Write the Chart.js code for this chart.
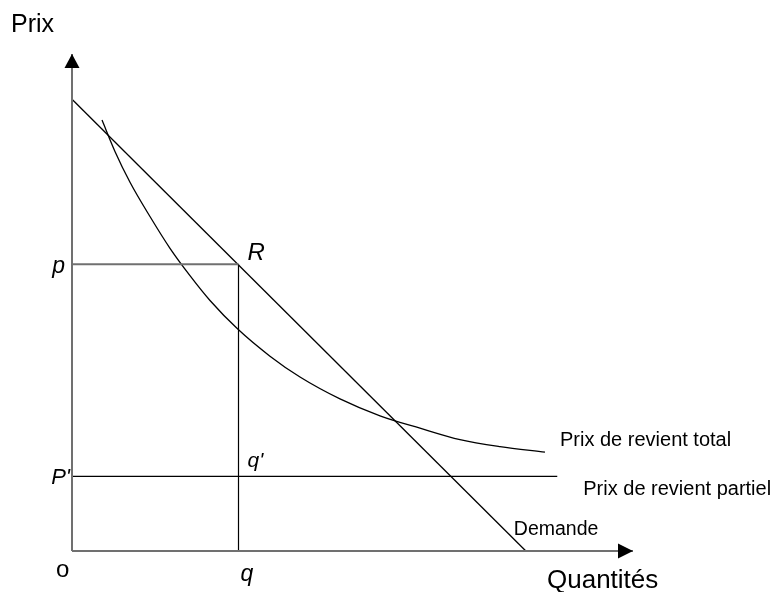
<!DOCTYPE html>
<html>
<head>
<meta charset="utf-8">
<script src="https://cdn.jsdelivr.net/npm/chart.js@4/dist/chart.umd.min.js"></script>
<style>
  html, body { margin: 0; padding: 0; background: #fff; }
  #c { display: block; }
</style>
</head>
<body>
<canvas id="c" width="776" height="592"></canvas>
<script>
// ---- Data (diagram units: quantity 0..100, price 0..100) ----
const axisMax = 100;
const demandeQ = [0, 80.9];
const demandeP = [90.9, 0];
const coutQ = [5.35, 7.66, 10.34, 13.9, 17.47, 21.03, 24.6, 29.59, 35.29, 40.64, 47.77, 54.9, 62.03, 69.16, 76.29, 84.31];
const coutP = [86.7, 80.4, 74.2, 67.3, 60.9, 55.4, 50.4, 44.6, 39.2, 35.0, 30.6, 27.2, 24.7, 22.4, 21.0, 19.9];
const prixP = 57.7;        // p
const quantiteQ = 29.68;   // q
const prixPartiel = 15.0;  // P'
const partielFinQ = 86.5;  // end of P' line

const pts = (xs, ys) => xs.map((x, i) => ({ x, y: ys[i] }));

const FONT = '"Liberation Sans", Arial, Helvetica, sans-serif';

const labelsPlugin = {
  id: 'labels',
  afterDatasetsDraw(chart) {
    const ctx = chart.ctx;
    const xs = chart.scales.x, ys = chart.scales.y;
    const X = v => xs.getPixelForValue(v), Y = v => ys.getPixelForValue(v);
    ctx.save();
    ctx.fillStyle = '#000';
    // arrowheads
    const tri = (tx, ty, dir) => {
      ctx.beginPath();
      if (dir === 'up') { ctx.moveTo(tx, ty); ctx.lineTo(tx - 7.5, ty + 14); ctx.lineTo(tx + 7.5, ty + 14); }
      else { ctx.moveTo(tx, ty); ctx.lineTo(tx - 15, ty - 7.5); ctx.lineTo(tx - 15, ty + 7.5); }
      ctx.closePath(); ctx.fill();
    };
    tri(X(0), Y(axisMax), 'up');
    tri(X(axisMax), Y(0), 'right');

    ctx.textBaseline = 'alphabetic';
    const txt = (s, x, y, size, italic, align) => {
      ctx.font = (italic ? 'italic ' : '') + size + 'px ' + FONT;
      ctx.textAlign = align || 'left';
      ctx.fillText(s, x, y);
    };
    txt('Prix', 11, 32, 25, false);
    txt('Quantités', 547, 588, 26, false);
    txt('o', X(0) - 16, Y(0) + 26, 24, false);
    txt('q', X(quantiteQ) + 2, Y(0) + 30, 23, true);
    txt('p', X(0) - 7, Y(prixP) + 9, 23, true, 'right');
    txt('R', X(quantiteQ) + 9, Y(prixP) - 4, 24, true);
    txt("P'", X(0) - 2, Y(prixPartiel) + 8, 22, true, 'right');
    txt("q'", X(quantiteQ) + 9, Y(prixPartiel) - 9, 21, true);
    txt('Prix de revient total', X(coutQ[coutQ.length - 1]) + 15, Y(coutP[coutP.length - 1]) - 6, 20, false);
    txt('Prix de revient partiel', X(partielFinQ) + 26, Y(prixPartiel) + 19, 20, false);
    txt('Demande', X(demandeQ[1]) - 12, Y(0) - 16, 19.5, false);
    ctx.restore();
  }
};

const line = (data, color, width, extra) => Object.assign({
  data, borderColor: color, borderWidth: width, showLine: true,
  pointRadius: 0, fill: false, clip: false, tension: 0
}, extra || {});

new Chart(document.getElementById('c'), {
  type: 'scatter',
  data: {
    datasets: [
      line(pts([0, 0], [0, axisMax]), '#707070', 2),
      line(pts([0, axisMax], [0, 0]), '#707070', 2),
      line(pts([0, quantiteQ], [prixP, prixP]), '#707070', 2),
      line(pts([quantiteQ, quantiteQ], [0, prixP]), '#000', 1.2),
      line(pts([0, partielFinQ], [prixPartiel, prixPartiel]), '#000', 1.2),
      line(pts(demandeQ, demandeP), '#000', 1.3),
      line(pts(coutQ, coutP), '#000', 1.3, { cubicInterpolationMode: 'monotone' })
    ]
  },
  options: {
    responsive: false,
    animation: false,
    layout: { padding: { left: 72, right: 143, top: 54, bottom: 41 } },
    plugins: { legend: { display: false }, tooltip: { enabled: false } },
    scales: {
      x: { type: 'linear', min: 0, max: axisMax, display: false },
      y: { type: 'linear', min: 0, max: axisMax, display: false }
    }
  },
  plugins: [labelsPlugin]
});
</script>
</body>
</html>
